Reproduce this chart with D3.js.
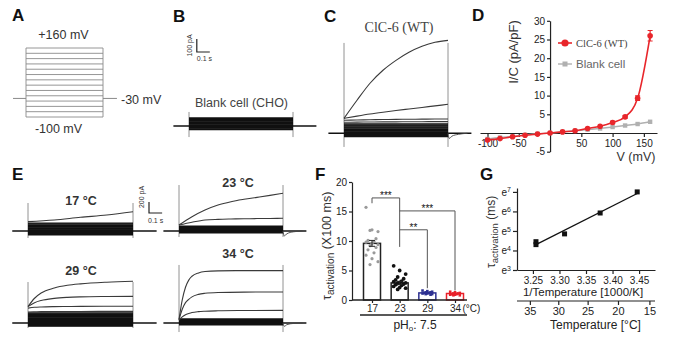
<!DOCTYPE html>
<html><head><meta charset="utf-8">
<script src="https://cdn.jsdelivr.net/npm/d3@7"></script>
<style>body{margin:0;background:#fff}</style>
</head><body><svg id="c" width="680" height="344" font-family='"Liberation Sans",Arial,sans-serif'></svg>
<script>
// ================= DATA =================
// A: voltage protocol (mV)
const stepVoltages = [-100,-80,-60,-40,-20,0,20,40,60,80,100,120,140,160];
const holdingVoltage = -30;

// B: blank cell traces (pA), flat dense band
const bBand = [62,56,50,44,38,32,26,20,14,8,2,-4,-10,-16,-22,-28];
const bTransient = [108,-85];

// C: ClC-6 WT traces (time s, current pA)
const cTimes = [0,0.1,0.2,0.3,0.4,0.5,0.6,0.7,0.8];
const cTraces = [
  [115,254,385,485,561,623,669,700,715],
  [115,132,148,162,175,187,199,211,223],
  [100,102,104,106,107,108,109,110,110],
  [85,86,87,88,88,89,89,90,90]
];
const cBand = [72,64,56,48,41,34,28,22,16,10,5,0,-5,-10,-15,-20,-25];
const cTransient = [695,-105];

// D: I/V relation
const dVolt = [-100,-80,-60,-40,-20,0,20,40,60,80,100,120,140,160];
const dWT = [-1.9,-1.5,-1.0,-0.6,-0.3,0,0.3,0.6,1.2,1.8,2.8,4.3,9.3,26.0];
const dWTErr = [0,0,0,0,0,0,0,0,0,0,0.3,0.3,0.6,1.4];
const dBlank = [-1.6,-1.2,-0.9,-0.5,-0.2,0,0.3,0.6,0.9,1.2,1.6,2.0,2.4,3.0];
const dXTicks = [-100,-50,50,100,150];
const dYTicks = [-5,5,10,15,20,25,30];

// E: temperature traces
const e17Times = [0,0.2,0.4,0.6,0.8];
const e17Traces = [[170,200,249,291,351]];
const e17Band = [145,128,112,97,83,70,57,45,33,22,11,0,-10,-20,-30,-40,-50,-60,-70];
const e17Transient = [509,-127];

const e23Times = [0,0.1,0.2,0.3,0.4,0.5,0.6,0.7,0.8];
const e23Traces = [
  [109,260,382,473,533,576,612,648,685],
  [109,160,200,212,218,222,226,228,231]
];
const e23Band = [90,78,66,55,45,35,26,17,8,0,-8,-16,-24,-32];
const e23Transient = [836,-109];

const e29Times = [0,0.05,0.1,0.2,0.3,0.4,0.6,0.8];
const e29Traces = [
  [300,450,545,636,685,712,742,758],
  [300,370,410,448,466,475,482,485],
  [270,285,292,298,300,302,304,305],
  [200,204,206,208,209,210,211,212]
];
const e29Band = [182,165,150,135,120,106,92,79,66,54,42,30,19,8,-3,-14,-25,-36,-47,-58];
const e29Transient = [745,-91];

const e34Times = [0,0.025,0.05,0.075,0.1,0.15,0.2,0.3,0.5,0.8];
const e34Traces = [
  [60,420,650,780,850,910,935,948,952,952],
  [60,250,370,430,475,520,540,555,562,564],
  [50,110,150,172,190,207,215,222,227,230]
];
const e34Band = [75,63,52,41,31,21,12,3,-6,-15,-24,-32];
const e34Transient = [1055,-164];

// F: activation time constants (x100 ms)
const fCats = ['17','23','29','34'];
const fMeans = [9.6,2.9,1.2,1.1];
const fSem = [0.5,0.25,0.08,0.07];
const fPoints17 = [15.7,11.9,11.6,11.8,10.4,10.1,9.9,9.8,9.6,9.4,9.2,8.9,8.5,8.0,7.6,7.0,6.5,6.0];
const fPoints23 = [5.8,5.0,4.4,3.9,3.6,3.4,3.2,3.1,3.0,2.9,2.8,2.7,2.6,2.5,2.3,2.1,2.0,1.8];
const fPoints29 = [1.6,1.5,1.4,1.3,1.3,1.2,1.2,1.1,1.1,1.0,1.0,0.9];
const fPoints34 = [1.4,1.3,1.2,1.1,1.1,1.0,1.0,0.9,0.9,0.8,0.8];
const fYTicks = [0,5,10,15,20];
const fBrackets = [
  {a:'17', b:'23', y:17.3, aEnd:16.4, bEnd:9.0, label:'***'},
  {a:'23', b:'34', y:15.1, aEnd:15.1, bEnd:1.6, label:'***'},
  {a:'23', b:'29', y:11.9, aEnd:11.9, bEnd:2.0, label:'**'}
];

// G: Arrhenius plot
const gTempsC = [34,34,29,23,17];
const gLnTau = [4.45,4.3,4.85,5.92,7.0];
const gXTicks = [3.25,3.30,3.35,3.40,3.45];
const gYTicks = [3,4,5,6,7];
const gTempTicks = [35,30,25,20,15];

// ================= DRAWING =================
const svg = d3.select('#c');
const INK = '#222';
const TXT = '#333';
const SANS = '"Liberation Sans",Arial,sans-serif';
const SERIF = '"Liberation Serif","Times New Roman",serif';

function txt(x,y,s,o={}){
  return svg.append('text').attr('x',x).attr('y',y).text(s)
    .attr('font-size',o.fs||11).attr('fill',o.fill||TXT)
    .attr('text-anchor',o.anchor||'start')
    .attr('font-weight',o.bold?'bold':null)
    .attr('font-family',o.serif?SERIF:SANS);
}
function styleAxis(g,fs){
  g.selectAll('path,line').attr('stroke',INK).attr('stroke-width',1.2);
  g.selectAll('text').attr('font-size',fs).attr('fill',INK).attr('font-family',SANS);
}

// panel letters
[['A',12,21],['B',173,22],['C',324,22],['D',472,21],['E',12,180],['F',315,180],['G',480,180]]
  .forEach(([l,x,y])=>txt(x,y,l,{fs:17,bold:true,fill:'#111'}));

// ---------- A ----------
{
  const xA = d3.scaleLinear().domain([0,0.8]).range([26,103]);
  const yA = d3.scaleLinear().domain([-100,160]).range([117,48]);
  const g = svg.append('g');
  g.selectAll('line.s').data(stepVoltages).join('line')
    .attr('x1',xA(0)).attr('x2',xA(0.8)).attr('y1',d=>yA(d)).attr('y2',d=>yA(d))
    .attr('stroke','#8a8a8a').attr('stroke-width',0.9);
  [0,0.8].forEach(t=>g.append('line').attr('x1',xA(t)).attr('x2',xA(t))
    .attr('y1',yA(-100)).attr('y2',yA(160)).attr('stroke','#8a8a8a').attr('stroke-width',0.9));
  g.append('line').attr('x1',xA(-0.135)).attr('x2',xA(0)).attr('y1',yA(holdingVoltage)).attr('y2',yA(holdingVoltage)).attr('stroke','#8a8a8a');
  g.append('line').attr('x1',xA(0.8)).attr('x2',xA(0.945)).attr('y1',yA(holdingVoltage)).attr('y2',yA(holdingVoltage)).attr('stroke','#8a8a8a');
  txt(63.5,39,'+160 mV',{fs:12.5,anchor:'middle'});
  txt(121,104,'-30 mV',{fs:12.5});
  txt(58.5,132.5,'-100 mV',{fs:12.5,anchor:'middle'});
}

// ---------- trace panels ----------
function tracePanel(cfg){
  const x = d3.scaleLinear().domain([0,0.8]).range([cfg.x0,cfg.x1]);
  const y = d3.scaleLinear().domain([0,1000]).range([cfg.base,cfg.base-1000*cfg.k]);
  const g = svg.append('g');
  [0,0.8].forEach(t=>g.append('line').attr('x1',x(t)).attr('x2',x(t))
    .attr('y1',y(cfg.transient[0])).attr('y2',y(cfg.transient[1]))
    .attr('stroke','#777').attr('stroke-width',0.8));
  g.append('line').attr('x1',x(-0.12)).attr('x2',x(0.98)).attr('y1',y(0)).attr('y2',y(0))
    .attr('stroke','#111').attr('stroke-width',1.5);
  g.selectAll('line.b').data(cfg.band).join('line')
    .attr('x1',x(0)).attr('x2',x(0.8)).attr('y1',d=>y(d)).attr('y2',d=>y(d))
    .attr('stroke','#111').attr('stroke-width',1.3);
  if(cfg.tail){
    const tl = d3.line().x(d=>x(d[0])).y(d=>y(d[1])).curve(d3.curveMonotoneX);
    g.append('path').attr('d',tl(cfg.tail)).attr('fill','none').attr('stroke','#444').attr('stroke-width',0.9);
  }
  if(cfg.traces){
    const line = d3.line().x((d,i)=>x(cfg.times[i])).y(d=>y(d)).curve(d3.curveMonotoneX);
    g.selectAll('path.t').data(cfg.traces).join('path').attr('d',line)
      .attr('fill','none').attr('stroke','#3a3a3a').attr('stroke-width',1.1);
  }
  return {x,y};
}

// B
const sB = tracePanel({x0:189,x1:293,base:126,k:0.13,band:bBand,transient:bTransient});
{
  const bx = sB.x(0.06), by = sB.y(0)-74;
  svg.append('path').attr('d',`M${bx},${by-100*0.13}V${by}H${bx+(sB.x(0.1)-sB.x(0))}`)
    .attr('fill','none').attr('stroke',INK).attr('stroke-width',1.2);
  svg.append('text').attr('transform',`translate(${bx-5},${by-6.5}) rotate(-90)`).attr('text-anchor','middle')
    .attr('font-size',7).attr('fill',TXT).text('100 pA');
  txt(bx,by+9,'0.1 s',{fs:7});
  txt(241.5,107,'Blank cell (CHO)',{fs:12.5,anchor:'middle',fill:'#444'});
}
// C
tracePanel({x0:344,x1:448,base:133.3,k:0.13,times:cTimes,traces:cTraces,band:cBand,transient:cTransient,
  tail:[[0.8,0],[0.81,-40],[0.83,-22],[0.88,-8],[0.95,0]]});
txt(399,31.5,'ClC-6 (WT)',{fs:14,anchor:'middle',serif:true,fill:'#444'});

// E
const sE17 = tracePanel({x0:28,x1:133,base:231,k:0.055,times:e17Times,traces:e17Traces,band:e17Band,transient:e17Transient});
tracePanel({x0:179,x1:283,base:231,k:0.055,times:e23Times,traces:e23Traces,band:e23Band,transient:e23Transient,
  tail:[[0.8,0],[0.81,-90],[0.83,-50],[0.88,-15],[0.95,0]]});
tracePanel({x0:28,x1:133,base:323,k:0.055,times:e29Times,traces:e29Traces,band:e29Band,transient:e29Transient});
tracePanel({x0:179,x1:283,base:323,k:0.055,times:e34Times,traces:e34Traces,band:e34Band,transient:e34Transient,
  tail:[[0.8,0],[0.81,-60],[0.83,-30],[0.88,-8],[0.95,0]]});
txt(81,205,'17 °C',{fs:12.5,bold:true,anchor:'middle'});
txt(238,187,'23 °C',{fs:12.5,bold:true,anchor:'middle'});
txt(81,275,'29 °C',{fs:12.5,bold:true,anchor:'middle'});
txt(238,258,'34 °C',{fs:12.5,bold:true,anchor:'middle'});
{
  const bx = 149, by = 213;
  svg.append('path').attr('d',`M${bx},${by-(sE17.y(0)-sE17.y(200))}V${by}H${bx+(sE17.x(0.1)-sE17.x(0))}`)
    .attr('fill','none').attr('stroke',INK).attr('stroke-width',1.2);
  svg.append('text').attr('transform',`translate(${bx-5},${by-16}) rotate(-90)`).attr('text-anchor','middle')
    .attr('font-size',7).attr('fill',TXT).text('200 pA');
  txt(bx-1,by+10,'0.1 s',{fs:7});
}

// ---------- D ----------
{
  const xD = d3.scaleLinear().domain([-112,171]).range([480,657]);
  const yD = d3.scaleLinear().domain([-5,30]).range([151.7,20.8]);
  const gx = svg.append('g').attr('transform',`translate(0,${yD(0)})`)
    .call(d3.axisBottom(xD).tickValues(dXTicks).tickFormat(d=>String(d)).tickSize(4).tickPadding(3).tickSizeOuter(0));
  styleAxis(gx,10);
  const gy = svg.append('g').attr('transform',`translate(${xD(0)},0)`)
    .call(d3.axisLeft(yD).tickValues(dYTicks).tickFormat(d=>String(d)).tickSize(3).tickPadding(2).tickSizeOuter(0));
  styleAxis(gy,10);
  const wt = dVolt.map((v,i)=>({v,i:dWT[i],e:dWTErr[i]}));
  const bl = dVolt.map((v,i)=>({v,i:dBlank[i]}));
  const line = d3.line().x(d=>xD(d.v)).y(d=>yD(d.i)).curve(d3.curveMonotoneX);
  svg.append('path').attr('d',line(bl)).attr('fill','none').attr('stroke','#b0b0b0').attr('stroke-width',1.4);
  svg.selectAll('rect.bl').data(bl).join('rect').attr('x',d=>xD(d.v)-2.2).attr('y',d=>yD(d.i)-2.2)
    .attr('width',4.4).attr('height',4.4).attr('fill','#b0b0b0');
  svg.append('path').attr('d',line(wt)).attr('fill','none').attr('stroke','#e8262b').attr('stroke-width',1.6);
  svg.selectAll('path.eb').data(wt.filter(d=>d.e>0)).join('path')
    .attr('d',d=>`M${xD(d.v)-2.5},${yD(d.i+d.e)}h5M${xD(d.v)},${yD(d.i+d.e)}V${yD(d.i-d.e)}M${xD(d.v)-2.5},${yD(d.i-d.e)}h5`)
    .attr('stroke','#e8262b').attr('stroke-width',1.2).attr('fill','none');
  svg.selectAll('circle.wt').data(wt).join('circle').attr('cx',d=>xD(d.v)).attr('cy',d=>yD(d.i)).attr('r',2.8).attr('fill','#e8262b');
  // legend
  svg.append('line').attr('x1',558).attr('x2',572).attr('y1',43).attr('y2',43).attr('stroke','#e8262b').attr('stroke-width',1.6);
  svg.append('circle').attr('cx',565).attr('cy',43).attr('r',3.6).attr('fill','#e8262b');
  txt(576,47,'ClC-6 (WT)',{fs:10.5,serif:true,fill:'#444'});
  svg.append('line').attr('x1',558).attr('x2',572).attr('y1',64).attr('y2',64).attr('stroke','#b0b0b0').attr('stroke-width',1.4);
  svg.append('rect').attr('x',562.5).attr('y',61.5).attr('width',5).attr('height',5).attr('fill','#b0b0b0');
  txt(576,68,'Blank cell',{fs:11.5,fill:'#666'});
  svg.append('text').attr('transform','translate(518,52) rotate(-90)').attr('text-anchor','middle')
    .attr('font-size',13).attr('fill',TXT).text('I/C (pA/pF)');
  txt(636,161,'V (mV)',{fs:12.5,anchor:'middle'});
}

// ---------- F ----------
{
  const xF = d3.scalePoint().domain(fCats).range([372,455]);
  const yF = d3.scaleLinear().domain([0,20]).range([300,182]);
  const barW = 17;
  const strokes = ['#222','#222','#2e3192','#e8202a'];
  const ptFill = ['#9a9a9a','#111','#2e3192','#e8202a'];
  const groups = [fPoints17,fPoints23,fPoints29,fPoints34];
  svg.selectAll('rect.fb').data(fCats).join('rect')
    .attr('x',d=>xF(d)-barW/2).attr('width',barW)
    .attr('y',(d,i)=>yF(fMeans[i])).attr('height',(d,i)=>yF(0)-yF(fMeans[i]))
    .attr('fill','#fff').attr('stroke',(d,i)=>strokes[i]).attr('stroke-width',1.5);
  groups.forEach((pts,gi)=>{
    const cx = xF(fCats[gi]);
    svg.selectAll(null).data(pts).join(gi<2?'circle':'rect')
      .each(function(v,i){
        const off = (((i*3)%7)-3)*(gi<2?2.0:1.6);
        const el = d3.select(this);
        if(gi<2) el.attr('cx',cx+off).attr('cy',yF(v)).attr('r',gi===0?1.6:1.9);
        else el.attr('x',cx+off-1.3).attr('y',yF(v)-1.3).attr('width',2.6).attr('height',2.6);
      }).attr('fill',ptFill[gi]);
  });
  svg.selectAll('path.fe').data(fCats).join('path')
    .attr('d',(d,i)=>{const c=xF(d),t=yF(fMeans[i]+fSem[i]),b=yF(fMeans[i]-fSem[i]);
      return `M${c-3},${t}h6M${c},${t}V${b}M${c-3},${b}h6`;})
    .attr('stroke',(d,i)=>strokes[i]).attr('stroke-width',1).attr('fill','none');
  const gy = svg.append('g').attr('transform','translate(352,0)')
    .call(d3.axisLeft(yF).tickValues(fYTicks).tickSize(3).tickPadding(2).tickSizeOuter(0));
  styleAxis(gy,10);
  svg.append('line').attr('x1',352).attr('x2',467).attr('y1',yF(0)).attr('y2',yF(0)).attr('stroke',INK).attr('stroke-width',1.4);
  const gx = svg.append('g').attr('transform',`translate(0,${yF(0)})`)
    .call(d3.axisBottom(xF).tickSize(3).tickPadding(2).tickSizeOuter(0));
  gx.select('.domain').remove();
  styleAxis(gx,10);
  txt(462.5,312,'(°C)',{fs:10,fill:INK});
  fBrackets.forEach(b=>{
    const xa=xF(b.a), xb=xF(b.b);
    svg.append('path').attr('d',`M${xa},${yF(b.aEnd)}V${yF(b.y)}H${xb}V${yF(b.bEnd)}`)
      .attr('fill','none').attr('stroke','#555').attr('stroke-width',1);
    txt((xa+xb)/2,yF(b.y)+1,b.label,{fs:10,anchor:'middle',fill:'#111'});
  });
  svg.append('line').attr('x1',360).attr('x2',467).attr('y1',315).attr('y2',315).attr('stroke',INK).attr('stroke-width',1.3);
  const ph = txt(415,328.5,'pH',{fs:12,anchor:'middle',fill:INK});
  ph.append('tspan').attr('font-size',8).attr('dy',2).text('o');
  ph.append('tspan').attr('dy',-2).text(': 7.5');
  const yl = svg.append('text').attr('transform','translate(331,300) rotate(-90)').attr('fill',TXT);
  yl.append('tspan').attr('font-size',12.5).text('τ');
  yl.append('tspan').attr('font-size',10).attr('dy',3).text('activation');
  yl.append('tspan').attr('font-size',12.5).attr('dy',-3).text(' (X100 ms)');
}

// ---------- G ----------
{
  const xG = d3.scaleLinear().domain([3.22,3.48]).range([517,655]);
  const yG = d3.scaleLinear().domain([3,7.2]).range([270,188]);
  const gy = svg.append('g').attr('transform',`translate(${xG(3.22)},0)`)
    .call(d3.axisLeft(yG).tickValues(gYTicks).tickSize(4).tickPadding(2).tickSizeOuter(0));
  styleAxis(gy,10);
  gy.selectAll('.tick text').each(function(d){
    const t=d3.select(this); t.text('e');
    t.append('tspan').attr('font-size',7).attr('dy','-0.45em').text(d);
  });
  const gx = svg.append('g').attr('transform',`translate(0,${yG(3)})`)
    .call(d3.axisBottom(xG).tickValues(gXTicks).tickFormat(d3.format('.2f')).tickSize(4).tickPadding(3).tickSizeOuter(0));
  styleAxis(gx,10);
  txt(583,295.5,'1/Temperature [1000/K]',{fs:11.5,anchor:'middle',fill:INK});
  const inv = T=>1000/(T+273.15);
  const y2 = 301;
  svg.append('line').attr('x1',xG(3.22)).attr('x2',xG(3.48)).attr('y1',y2).attr('y2',y2).attr('stroke',INK).attr('stroke-width',1.2);
  svg.selectAll('line.t2').data(gTempTicks).join('line').attr('x1',d=>xG(inv(d))).attr('x2',d=>xG(inv(d)))
    .attr('y1',y2).attr('y2',y2+4).attr('stroke',INK).attr('stroke-width',1.2);
  svg.selectAll('text.t2').data(gTempTicks).join('text').attr('x',d=>xG(inv(d))).attr('y',y2+13.5)
    .attr('text-anchor','middle').attr('font-size',11).attr('fill',INK).attr('font-family',SANS).text(d=>d);
  txt(595.5,328.5,'Temperature [°C]',{fs:12,anchor:'middle',fill:INK});
  const pts = gTempsC.map((T,i)=>({x:inv(T),y:gLnTau[i]}));
  const mx = d3.mean(pts,d=>d.x), my = d3.mean(pts,d=>d.y);
  const slope = d3.sum(pts,d=>(d.x-mx)*(d.y-my))/d3.sum(pts,d=>(d.x-mx)**2);
  const [x0,x1] = d3.extent(pts,d=>d.x);
  svg.append('line').attr('x1',xG(x0)).attr('x2',xG(x1))
    .attr('y1',yG(my+slope*(x0-mx))).attr('y2',yG(my+slope*(x1-mx)))
    .attr('stroke','#111').attr('stroke-width',1.3);
  svg.selectAll('rect.gp').data(pts).join('rect').attr('x',d=>xG(d.x)-2.5).attr('y',d=>yG(d.y)-2.5)
    .attr('width',5).attr('height',5).attr('fill','#111');
  const yl = svg.append('text').attr('transform','translate(495,268) rotate(-90)').attr('fill',TXT);
  yl.append('tspan').attr('font-size',12).text('τ');
  yl.append('tspan').attr('font-size',9.5).attr('dy',3).text('activation');
  yl.append('tspan').attr('font-size',12).attr('dy',-3).text(' (ms)');
}
</script></body></html>
